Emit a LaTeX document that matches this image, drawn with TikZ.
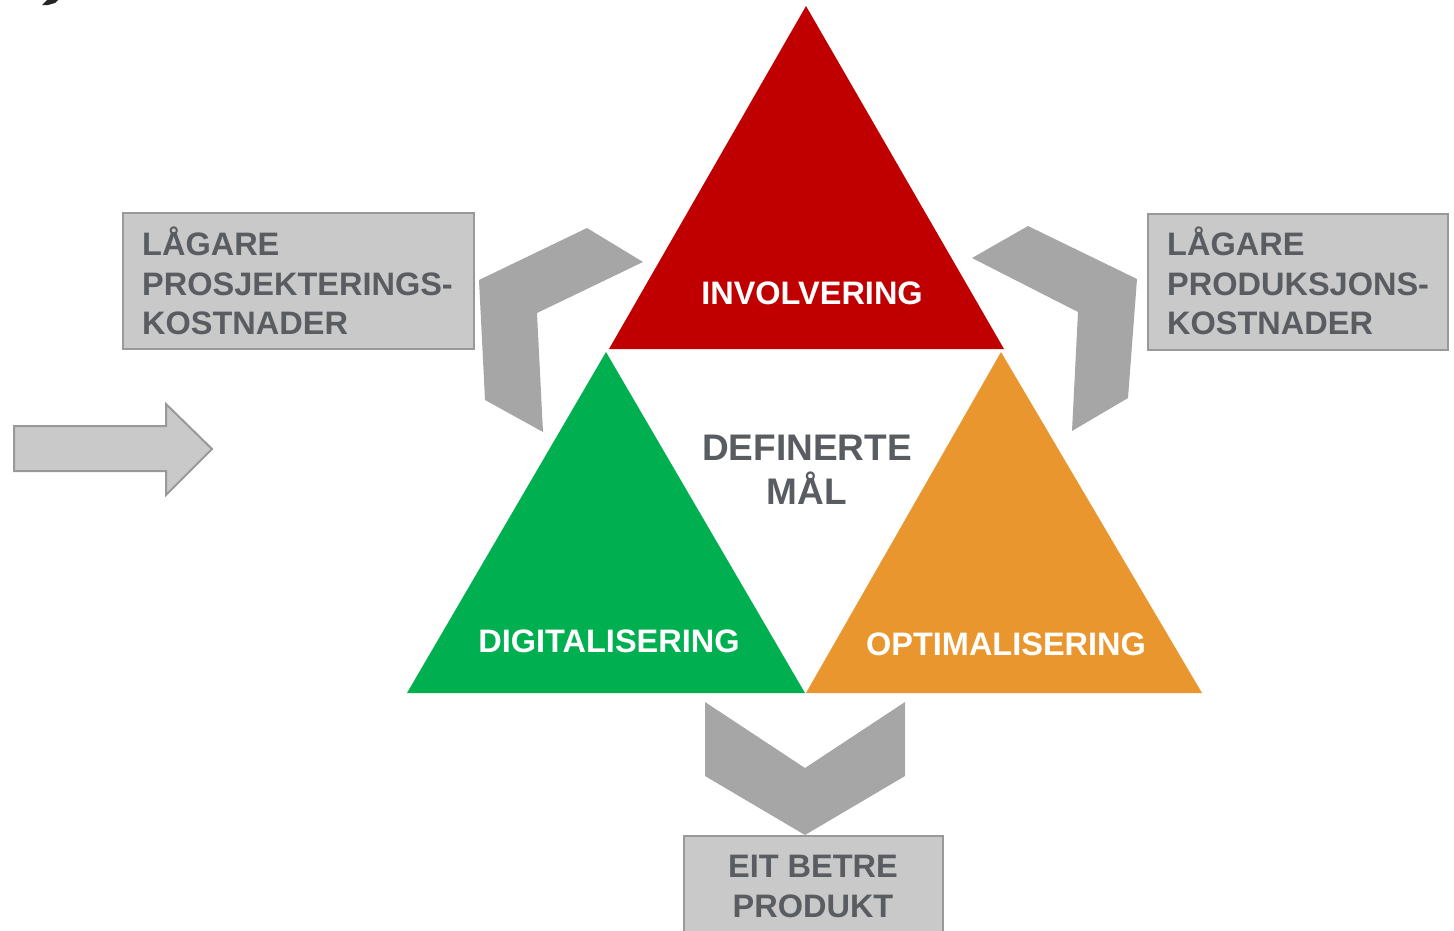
\documentclass[tikz,border=0pt]{standalone}
\usepackage{fontspec}
\setmainfont{Liberation Sans}
\definecolor{cred}{RGB}{192,0,0}
\definecolor{cgreen}{RGB}{0,176,80}
\definecolor{corange}{RGB}{234,150,46}
\definecolor{chev}{RGB}{166,166,166}
\definecolor{boxfill}{RGB}{201,201,201}
\definecolor{boxline}{RGB}{153,153,153}
\definecolor{txt}{RGB}{89,93,97}
\begin{document}
\begin{tikzpicture}[x=1pt,y=-1pt,
  lbl/.style={inner sep=0pt,font=\bfseries\fontsize{32.5}{39}\selectfont,text=txt},
  wlbl/.style={inner sep=0pt,font=\bfseries\fontsize{32.5}{39}\selectfont,text=white},
  clbl/.style={inner sep=0pt,font=\bfseries\fontsize{37}{44}\selectfont,text=txt},
  graybox/.style={draw=boxline,line width=2pt,fill=boxfill},
  chevron/.style={fill=chev,draw=none}]
\useasboundingbox (0,0) rectangle (1454,930);
\clip (0,0) rectangle (1454,930);
% fragment at top left
\fill[black!85] (42,5) -- (47,0) -- (58,0) -- (55,3) -- (48,5) -- cycle;
% triangles
\fill[cred] (806,6) -- (1004,349) -- (609,349) -- cycle;
\fill[cgreen] (606,352) -- (805,693) -- (407,693) -- cycle;
\fill[corange] (1001,352) -- (1202,693) -- (806,693) -- cycle;
% chevrons
\fill[chevron] (587,228) -- (643,262) -- (537,313) -- (543,432) -- (485,400) -- (479,280) -- cycle;
\fill[chevron] (1028,226) -- (1137,279) -- (1128,398) -- (1072,431) -- (1078,312) -- (972,258) -- cycle;
\fill[chevron] (705,702) -- (805,768) -- (905,702) -- (905,776) -- (805,835) -- (705,776) -- cycle;
% left arrow
\draw[graybox] (14,426) -- (166,426) -- (166,404) -- (212,449) -- (166,495) -- (166,471) -- (14,471) -- cycle;
% boxes
\draw[graybox] (123,213) rectangle (474,349);
\draw[graybox] (1148,214) rectangle (1448,350);
\draw[graybox] (684,836) rectangle (943,945);
% box texts
\node[lbl,anchor=base west] (l1) at (142,255) {LÅGARE};
\node[lbl,anchor=base west] (l2) at (142,295) {PROSJEKTERINGS-};
\node[lbl,anchor=base west] (l3) at (142,334) {KOSTNADER};
\node[lbl,anchor=base west] (r1) at (1167,255) {LÅGARE};
\node[lbl,anchor=base west] (r2) at (1167,295) {PRODUKSJONS-};
\node[lbl,anchor=base west] (r3) at (1167,334) {KOSTNADER};
\node[lbl,anchor=base] (b1) at (813,877) {EIT BETRE};
\node[lbl,anchor=base] (b2) at (813,917) {PRODUKT};
% triangle texts
\node[wlbl,anchor=base] (inv) at (812,304) {INVOLVERING};
\node[wlbl,anchor=base] (dig) at (609,652) {DIGITALISERING};
\node[wlbl,anchor=base] (opt) at (1006,655) {OPTIMALISERING};
\node[clbl,anchor=base] (def) at (807,460) {DEFINERTE};
\node[clbl,anchor=base] (mal) at (807,504) {MÅL};
\end{tikzpicture}
\end{document}
